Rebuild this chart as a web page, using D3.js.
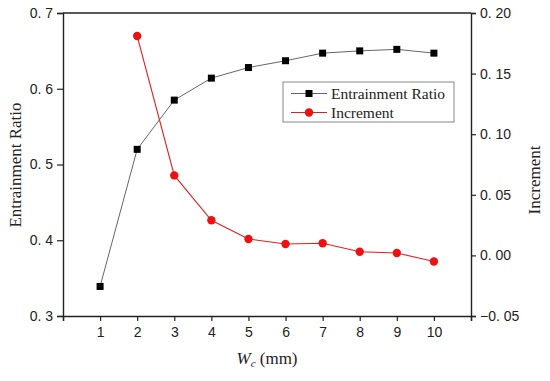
<!DOCTYPE html>
<html>
<head>
<meta charset="utf-8">
<script src="https://cdn.jsdelivr.net/npm/d3@7"></script>
<style>
  body { margin: 0; background: #fff; }
  .tick text { font-family: "Liberation Sans", Arial, sans-serif; font-size: 14px; fill: #222; }
  .ttl { font-family: "Liberation Serif", "Times New Roman", serif; font-size: 17px; fill: #222; }
  .leg { font-family: "Liberation Serif", "Times New Roman", serif; font-size: 15.5px; fill: #222; }
</style>
</head>
<body>
<div id="chart"></div>
<script>
const wc = [1, 2, 3, 4, 5, 6, 7, 8, 9, 10];
const ratio = [0.339, 0.520, 0.585, 0.614, 0.628, 0.637, 0.647, 0.650, 0.652, 0.647];
const incWc = [2, 3, 4, 5, 6, 7, 8, 9, 10];
const increment = [0.181, 0.066, 0.029, 0.0135, 0.0094, 0.010, 0.003, 0.002, -0.005];
const leftTicks = [0.3, 0.4, 0.5, 0.6, 0.7];
const rightTicks = [-0.05, 0, 0.05, 0.10, 0.15, 0.20];

const W = 550, H = 381;
const svg = d3.select("#chart").append("svg")
    .attr("width", W)
    .attr("height", H);

const x = d3.scaleLinear().domain([0, 11]).range([63, 471]);
const yL = d3.scaleLinear().domain([0.3, 0.7]).range([316, 13]);
const yR = d3.scaleLinear().domain([-0.05, 0.20]).range([316, 13]);

// frame top line
svg.append("line")
    .attr("x1", 63).attr("x2", 471).attr("y1", 13).attr("y2", 13)
    .attr("stroke", "#222").attr("stroke-width", 1.4);

const fmtL = d => d3.format(".1f")(d).replace(".", ". ");
const fmtR = d => d3.format(".2f")(d).replace("-", "\u2212").replace(".", ". ");

const gx = svg.append("g")
    .attr("transform", "translate(0,316)")
    .call(d3.axisBottom(x).tickValues(d3.range(0, 12)).tickSize(5).tickPadding(6)
        .tickFormat(d => (d === 0 || d === 11) ? "" : d));
const gl = svg.append("g")
    .attr("transform", "translate(63,0)")
    .call(d3.axisLeft(yL).tickValues(leftTicks).tickSize(6).tickPadding(4).tickFormat(fmtL));
const gr = svg.append("g")
    .attr("transform", "translate(471,0)")
    .call(d3.axisRight(yR).tickValues(rightTicks).tickSize(5).tickPadding(4).tickFormat(fmtR));

[gx, gl, gr].forEach(g => {
    g.select(".domain").attr("stroke", "#222").attr("stroke-width", 1.4);
    g.selectAll(".tick line").attr("stroke", "#222").attr("stroke-width", 1.2);
});

// lines
const lineL = d3.line().x((d, i) => x(wc[i])).y(d => yL(d));
const lineR = d3.line().x((d, i) => x(incWc[i])).y(d => yR(d));

svg.append("path").datum(ratio)
    .attr("d", lineL).attr("fill", "none").attr("stroke", "#666").attr("stroke-width", 1);
svg.append("path").datum(increment)
    .attr("d", lineR).attr("fill", "none").attr("stroke", "#e02020").attr("stroke-width", 1.1);

svg.selectAll("rect.pt").data(ratio).enter().append("rect")
    .attr("class", "pt")
    .attr("x", (d, i) => x(wc[i]) - 3.5)
    .attr("y", d => yL(d) - 3.5)
    .attr("width", 7).attr("height", 7)
    .attr("fill", "#000");

svg.selectAll("circle.pt").data(increment).enter().append("circle")
    .attr("class", "pt")
    .attr("cx", (d, i) => x(incWc[i]))
    .attr("cy", d => yR(d))
    .attr("r", 4.2)
    .attr("fill", "#ee1111");

// legend
const lg = svg.append("g");
lg.append("rect")
    .attr("x", 283).attr("y", 82).attr("width", 171).attr("height", 40)
    .attr("fill", "#fff").attr("stroke", "#888").attr("stroke-width", 1);
const legendItems = [
    { name: "Entrainment Ratio", color: "#666", shape: "square", y: 93.5 },
    { name: "Increment", color: "#e02020", shape: "circle", y: 112.5 }
];
legendItems.forEach(it => {
    lg.append("line")
        .attr("x1", 291).attr("x2", 327).attr("y1", it.y).attr("y2", it.y)
        .attr("stroke", it.color).attr("stroke-width", 1);
    if (it.shape === "square") {
        lg.append("rect").attr("x", 309 - 3.5).attr("y", it.y - 3.5)
            .attr("width", 7).attr("height", 7).attr("fill", "#000");
    } else {
        lg.append("circle").attr("cx", 309).attr("cy", it.y).attr("r", 4.2).attr("fill", "#ee1111");
    }
    lg.append("text")
        .attr("class", "leg")
        .attr("x", 331).attr("y", it.y + 5)
        .text(it.name);
});

// axis titles
svg.append("text").attr("class", "ttl")
    .attr("transform", "translate(21,165) rotate(-90)")
    .attr("text-anchor", "middle")
    .text("Entrainment Ratio");
svg.append("text").attr("class", "ttl")
    .attr("transform", "translate(540,180) rotate(-90)")
    .attr("text-anchor", "middle")
    .text("Increment");
const xt = svg.append("text").attr("class", "ttl")
    .attr("x", 267).attr("y", 364)
    .attr("text-anchor", "middle");
xt.append("tspan").attr("font-style", "italic").text("W");
xt.append("tspan").attr("font-style", "italic").attr("font-size", "11px").attr("dy", 3).text("c");
xt.append("tspan").attr("dy", -3).text(" (mm)");
</script>
</body>
</html>
